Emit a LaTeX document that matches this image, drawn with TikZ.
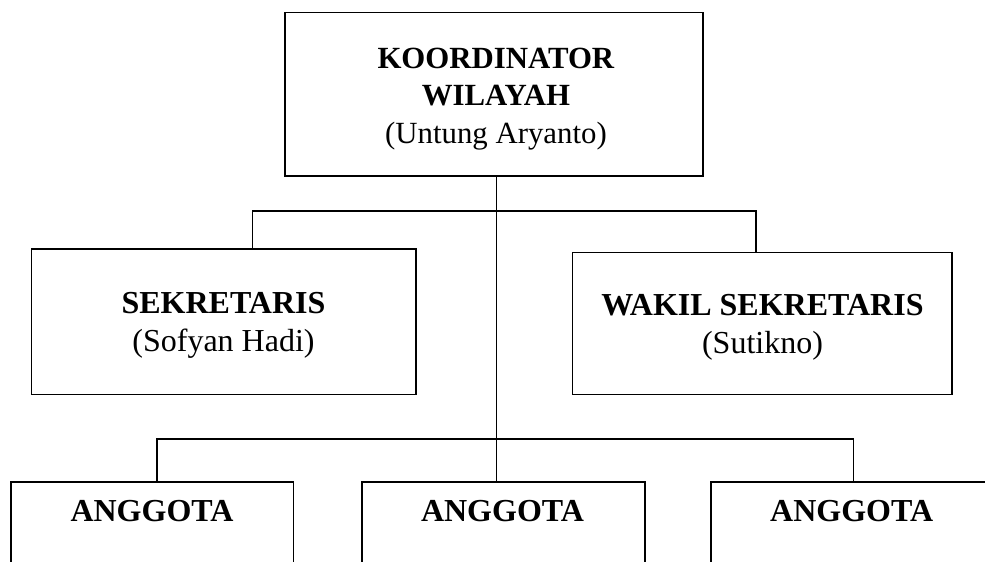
\documentclass[tikz,border=0pt]{standalone}
\usepackage{fontspec}
\setmainfont{Liberation Serif}
\begin{document}
\begin{tikzpicture}[x=1pt,y=-1pt,
  box/.style={draw,line width=1.6pt,rectangle,inner sep=0pt},
  conn/.style={line width=1.6pt},
  txt/.style={align=center,inner sep=0pt,font=\fontsize{32}{38}\selectfont},
  toptxt/.style={align=center,inner sep=0pt,font=\fontsize{30.8}{37.5}\selectfont},
  anggtxt/.style={anchor=base,inner sep=0pt,font=\fontsize{32}{38}\selectfont\bfseries}]
\clip (0,0) rectangle (985,562);
\fill[white] (0,0) rectangle (985,562);
% boxes
\node[box,minimum width=418pt,minimum height=163.7pt] (k) at (493.7,94.2) {};
\node[box,minimum width=384.3pt,minimum height=145.3pt] (s) at (223.8,321.7) {};
\node[box,minimum width=379.4pt,minimum height=142pt] (w) at (762,323.3) {};
\node[box,minimum width=282.7pt,minimum height=158pt] (a1) at (152.3,561) {};
\node[box,minimum width=283pt,minimum height=158pt] (a2) at (503.2,561) {};
\node[box,minimum width=284.3pt,minimum height=158pt] (a3) at (852.9,561) {};
% texts
\node[toptxt] (kt) at (496,99) {\textbf{KOORDINATOR}\\\textbf{WILAYAH}\\(Untung Aryanto)};
\node[txt] (st) at (223.5,325.5) {\textbf{SEKRETARIS}\\(Sofyan Hadi)};
\node[txt] (wt) at (762.5,327.5) {\textbf{WAKIL SEKRETARIS}\\(Sutikno)};
\node[anggtxt] (a1t) at (152,521.7) {ANGGOTA};
\node[anggtxt] (a2t) at (502.5,521.7) {ANGGOTA};
\node[anggtxt] (a3t) at (851.7,521.7) {ANGGOTA};
% connector points
\coordinate (j1) at (496.5,211);
\coordinate (j2) at (496.5,439);
\coordinate (sl) at (252.3,211);
\coordinate (wr) at (756,211);
\coordinate (al) at (156.7,439);
\coordinate (ar) at (853.3,439);
% connectors
\draw[conn] (k.south -| j1) -- (j2);
\draw[conn] (s.north -| sl) -- (sl) -- (wr) -- (w.north -| wr);
\draw[conn] (a1.north -| al) -- (al) -- (ar) -- (a3.north -| ar);
\draw[conn] (j2) -- (a2.north -| j2);
\end{tikzpicture}
\end{document}
